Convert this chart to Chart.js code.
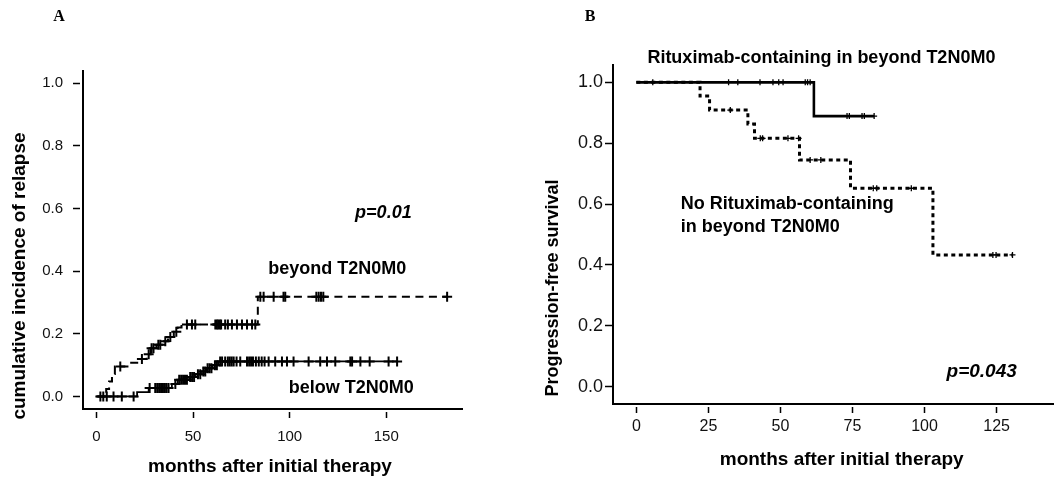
<!DOCTYPE html>
<html>
<head>
<meta charset="utf-8">
<script src="https://cdn.jsdelivr.net/npm/chart.js@4.4.1/dist/chart.umd.min.js"></script>
<style>
  html, body { margin: 0; padding: 0; background: #fff; }
  #wrap { position: relative; width: 1059px; height: 479px; overflow: hidden; background: #fff; }
  canvas { position: absolute; top: 0; }
  #chartA { left: 0; }
  #chartB { left: 520px; }
</style>
</head>
<body>
<div id="wrap">
  <canvas id="chartA" width="520" height="479"></canvas>
  <canvas id="chartB" width="539" height="479"></canvas>
</div>
<script>
// ---- Panel A: cumulative incidence of relapse ----
const aTicksX = [0, 50, 100, 150];
const aTicksY = [0, 0.2, 0.4, 0.6, 0.8, 1.0];

// beyond T2N0M0 (dashed)
const beyondEventT = [5, 6.5, 8, 9.5, 17, 22, 26, 28, 31, 34, 37, 40, 42, 44, 83.5];
const beyondEventY = [0.024, 0.048, 0.072, 0.096, 0.108, 0.12, 0.135, 0.154, 0.165, 0.176, 0.19, 0.207, 0.22, 0.23, 0.318];
const beyondCensor = [3.5, 12.3, 23.5, 27, 28.5, 29.5, 32, 33, 35.6, 38.2, 41.3, 46.8, 49.4, 51.1,
  61.5, 62.3, 63, 63.8, 64.5, 66.6, 68, 70.1, 72.7, 75.3, 77.9, 80.5, 82.2,
  84.8, 86.5, 91.7, 96.8, 97.7, 113.8, 115, 116.2, 117.4, 181.5];

// below T2N0M0 (solid)
const belowEventT = [21, 27, 39, 42, 48, 51, 54, 57, 60, 63];
const belowEventY = [0.014, 0.027, 0.040, 0.053, 0.062, 0.071, 0.080, 0.090, 0.100, 0.112];
const belowCensor = [2, 5.3, 8.8, 13.1, 19.2, 27.5, 30.4, 31.4, 32.4, 33.4, 34.4, 35.4, 36.3, 37.3,
  40.8, 42.8, 43.8, 44.8, 45.8, 46.8, 48.5, 49.5, 50.5, 52.5, 53.7, 55.3, 56.3, 57.5, 58.5, 59.5,
  61.3, 62.3, 64, 65, 66.6, 68, 69, 70, 71, 72.5, 74.4, 77.9, 79, 80, 81, 82.5, 84, 85.5, 87, 89.1,
  92.5, 96, 98.6, 102, 109.8, 115.8, 119.3, 123.6, 131.4, 132.3, 136.6, 141.4, 151.2, 155.6];

// ---- Panel B: progression-free survival ----
const bTicksX = [0, 25, 50, 75, 100, 125];
const bTicksY = [0, 0.2, 0.4, 0.6, 0.8, 1.0];

// Rituximab-containing (solid)
const ritEventT = [61.6];
const ritEventY = [0.889];
const ritCensor = [5.7, 32, 35.2, 42.9, 47.4, 49.4, 50.9, 58.6, 59.4, 60.3, 73.1, 73.9, 78.3, 79.1, 82.5];

// No Rituximab-containing (dotted)
const noRitEventT = [22.1, 25.4, 38.7, 41.0, 56.6, 74.3, 102.9];
const noRitEventY = [0.955, 0.909, 0.863, 0.816, 0.745, 0.652, 0.433];
const noRitCensor = [32.6, 43, 43.8, 52.6, 56.3, 60.3, 64, 82.2, 83.4, 95.4, 123.7, 124.8, 130.5];

function stepAt(t, times, vals, start) {
  let v = start;
  for (let i = 0; i < times.length; i++) if (times[i] <= t) v = vals[i];
  return v;
}

function curve(times, vals, start, end) {
  const pts = [{ x: 0, y: start }];
  times.forEach((t, i) => pts.push({ x: t, y: vals[i] }));
  pts.push({ x: end, y: vals[vals.length - 1] });
  return pts;
}

function censorPts(cens, times, vals, start) {
  return cens.map(t => ({ x: t, y: stepAt(t, times, vals, start) }));
}

const textPlugin = {
  id: 'texts',
  afterDraw(chart, args, opts) {
    const ctx = chart.ctx;
    const sx = chart.scales.x, sy = chart.scales.y;
    ctx.save();
    ctx.fillStyle = '#000';
    (opts.items || []).forEach(it => {
      ctx.font = it.font;
      ctx.textAlign = it.align || 'center';
      ctx.textBaseline = 'middle';
      const px = it.data ? sx.getPixelForValue(it.x) : it.x;
      const py = it.data ? sy.getPixelForValue(it.y) : it.y;
      if (it.rotate) {
        ctx.save();
        ctx.translate(px, py);
        ctx.rotate(-Math.PI / 2);
        ctx.fillText(it.text, 0, 0);
        ctx.restore();
      } else {
        ctx.fillText(it.text, px, py);
      }
    });
    ctx.restore();
  }
};

const SANS = '"Liberation Sans", Arial, sans-serif';

function axisCfg(o) {
  return {
    type: 'linear',
    min: o.min, max: o.max,
    afterBuildTicks: s => { s.ticks = o.ticks.map(v => ({ value: v })); },
    afterFit: s => { if (o.width) s.width = o.width; if (o.height) s.height = o.height; },
    border: { display: true, color: '#000', width: 2 },
    grid: {
      drawOnChartArea: false, drawTicks: true, color: '#000',
      tickLength: o.tickLength, tickWidth: 1.5, tickColor: '#000',
      tickBorderDash: o.tickDash || []
    },
    ticks: {
      color: '#111', padding: o.pad,
      font: { family: SANS, size: o.fontSize },
      callback: o.fmt
    }
  };
}

new Chart(document.getElementById('chartA'), {
  type: 'scatter',
  data: {
    datasets: [
      {
        data: curve(beyondEventT, beyondEventY, 0, beyondCensor[beyondCensor.length - 1]),
        showLine: true, stepped: 'before', borderColor: '#000', borderWidth: 2,
        borderDash: [8, 5.5], pointRadius: 0
      },
      {
        data: curve(belowEventT, belowEventY, 0, belowCensor[belowCensor.length - 1]),
        showLine: true, stepped: 'before', borderColor: '#000', borderWidth: 1.8, pointRadius: 0
      },
      {
        data: censorPts(beyondCensor, beyondEventT, beyondEventY, 0),
        showLine: false, pointStyle: 'cross', pointRadius: 5, pointBorderWidth: 2, borderColor: '#000'
      },
      {
        data: censorPts(belowCensor, belowEventT, belowEventY, 0),
        showLine: false, pointStyle: 'cross', pointRadius: 5, pointBorderWidth: 2, borderColor: '#000'
      }
    ]
  },
  options: {
    responsive: false, animation: false,
    layout: { padding: { top: 71, right: 58, left: 0, bottom: 0 } },
    scales: {
      x: axisCfg({ min: -7, max: 189.2, ticks: aTicksX, height: 70, tickLength: 9,
        tickDash: [0, 2, 7, 10], pad: 10, fontSize: 15, fmt: v => String(v) }),
      y: axisCfg({ min: -0.04, max: 1.039, ticks: aTicksY, width: 83, tickLength: 10,
        tickDash: [7, 3], pad: 10, fontSize: 15, fmt: v => v.toFixed(1) })
    },
    plugins: {
      legend: { display: false }, tooltip: { enabled: false },
      texts: {
        items: [
          { text: 'A', x: 59, y: 17, font: 'bold 16px "Liberation Serif", serif' },
          { text: 'p=0.01', x: 148.5, y: 0.586, data: true, font: 'italic bold 18px ' + SANS },
          { text: 'beyond T2N0M0', x: 124.6, y: 0.407, data: true, font: 'bold 18px ' + SANS },
          { text: 'below T2N0M0', x: 131.9, y: 0.028, data: true, font: 'bold 18px ' + SANS },
          { text: 'months after initial therapy', x: 270, y: 467, font: 'bold 19px ' + SANS },
          { text: 'cumulative incidence of relapse', x: 20, y: 276, rotate: true, font: 'bold 19px ' + SANS }
        ]
      }
    }
  },
  plugins: [textPlugin]
});

new Chart(document.getElementById('chartB'), {
  type: 'scatter',
  data: {
    datasets: [
      {
        data: curve(noRitEventT, noRitEventY, 1, noRitCensor[noRitCensor.length - 1]),
        showLine: true, stepped: 'before', borderColor: '#000', borderWidth: 3,
        borderDash: [4, 3.5], pointRadius: 0
      },
      {
        data: curve(ritEventT, ritEventY, 1, ritCensor[ritCensor.length - 1]),
        showLine: true, stepped: 'before', borderColor: '#000', borderWidth: 2.6, pointRadius: 0
      },
      {
        data: censorPts(noRitCensor, noRitEventT, noRitEventY, 1),
        showLine: false, pointStyle: 'cross', pointRadius: 3, pointBorderWidth: 1.3, borderColor: '#000'
      },
      {
        data: censorPts(ritCensor, ritEventT, ritEventY, 1),
        showLine: false, pointStyle: 'cross', pointRadius: 3, pointBorderWidth: 1.3, borderColor: '#000'
      }
    ]
  },
  options: {
    responsive: false, animation: false,
    layout: { padding: { top: 65, right: 0, left: 0, bottom: 0 } },
    scales: {
      x: axisCfg({ min: -8.1, max: 144.8, ticks: bTicksX, height: 75, tickLength: 9,
        tickDash: [0, 2, 7, 10], pad: 4, fontSize: 16, fmt: v => String(v) }),
      y: axisCfg({ min: -0.057, max: 1.057, ticks: bTicksY, width: 93, tickLength: 8,
        pad: 2, fontSize: 18, fmt: v => v.toFixed(1) })
    },
    plugins: {
      legend: { display: false }, tooltip: { enabled: false },
      texts: {
        items: [
          { text: 'B', x: 70, y: 17, font: 'bold 16px "Liberation Serif", serif' },
          { text: 'Rituximab-containing in beyond T2N0M0', x: 64.2, y: 1.08, data: true, font: 'bold 18px ' + SANS },
          { text: 'No Rituximab-containing', x: 15.4, y: 0.6, data: true, align: 'left', font: 'bold 18px ' + SANS },
          { text: 'in beyond T2N0M0', x: 15.4, y: 0.525, data: true, align: 'left', font: 'bold 18px ' + SANS },
          { text: 'p=0.043', x: 119.8, y: 0.048, data: true, font: 'italic bold 19px ' + SANS },
          { text: 'months after initial therapy', x: 321.7, y: 460, font: 'bold 19px ' + SANS },
          { text: 'Progression-free survival', x: 33, y: 288, rotate: true, font: 'bold 18px ' + SANS }
        ]
      }
    }
  },
  plugins: [textPlugin]
});
</script>
</body>
</html>
